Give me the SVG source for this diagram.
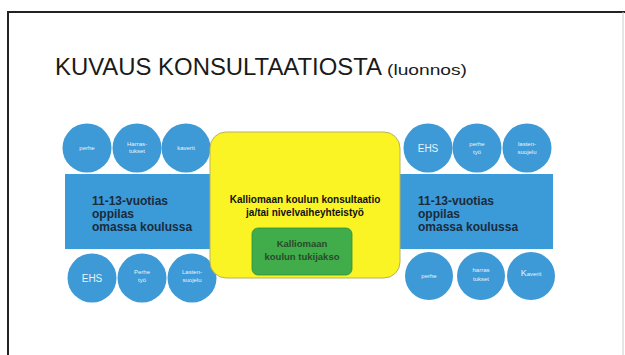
<svg xmlns="http://www.w3.org/2000/svg" width="625" height="355" viewBox="0 0 625 355">
<style>
.c{fill:#3d9ad6;}
.ct{fill:#e8f3fb;font-family:"Liberation Sans",Arial,sans-serif;font-size:6px;text-anchor:middle;}
.ehs{font-size:10px;}
.bar{fill:#3b9ad8;}
.bt{fill:#1c2b3a;font-family:"Liberation Sans",Arial,sans-serif;font-size:12px;font-weight:bold;}
.yt{fill:#111;font-family:"Liberation Sans",Arial,sans-serif;font-size:10px;font-weight:bold;text-anchor:middle;}
.gt{fill:#2a4a2a;font-family:"Liberation Sans",Arial,sans-serif;font-size:9.5px;font-weight:bold;text-anchor:middle;}
</style>
<rect width="625" height="355" fill="#ffffff"/>
<g id="frame">
<path d="M8 355 V12 H625" fill="none" stroke="#222" stroke-width="2"/>
<line x1="623" y1="12" x2="623" y2="355" stroke="#ccc" stroke-width="1"/>
</g>
<g id="title">
<text x="55" y="75" font-family="Liberation Sans,Arial,sans-serif" font-size="24" fill="#1a1a1a" textLength="327" lengthAdjust="spacingAndGlyphs">KUVAUS KONSULTAATIOSTA</text>
<text x="387" y="75" font-family="Liberation Sans,Arial,sans-serif" font-size="15" fill="#1a1a1a" textLength="80" lengthAdjust="spacingAndGlyphs">(luonnos)</text>
</g>
<g id="connectors"></g>
<g id="bar-left">
<rect class="bar" x="65" y="174" width="150" height="75"/>
<text class="bt" x="92" y="205">11-13-vuotias</text>
<text class="bt" x="92" y="218">oppilas</text>
<text class="bt" x="92" y="231">omassa koulussa</text>
</g>
<g id="bar-right">
<rect class="bar" x="395" y="174" width="158" height="75"/>
<text class="bt" x="418" y="205">11-13-vuotias</text>
<text class="bt" x="418" y="218">oppilas</text>
<text class="bt" x="418" y="231">omassa koulussa</text>
</g>
<g id="tl1"><circle class="c" cx="87" cy="148" r="24.5"/><text class="ct" x="87" y="150">perhe</text></g>
<g id="tl2"><circle class="c" cx="137" cy="148" r="24.5"/><text class="ct" x="137" y="146">Harras-</text><text class="ct" x="137" y="153">tukset</text></g>
<g id="tl3"><circle class="c" cx="186" cy="148" r="24.5"/><text class="ct" x="186" y="150">kaverit</text></g>
<g id="tr1"><circle class="c" cx="428" cy="148" r="24.5"/><text class="ct ehs" x="428" y="152">EHS</text></g>
<g id="tr2"><circle class="c" cx="477" cy="148" r="24.5"/><text class="ct" x="477" y="146">perhe</text><text class="ct" x="477" y="154">työ</text></g>
<g id="tr3"><circle class="c" cx="527" cy="148" r="24.5"/><text class="ct" x="527" y="146">lasten-</text><text class="ct" x="527" y="154">suojelu</text></g>
<g id="bl1"><circle class="c" cx="92" cy="278" r="24.5"/><text class="ct ehs" x="92" y="282">EHS</text></g>
<g id="bl2"><circle class="c" cx="142" cy="278" r="24.5"/><text class="ct" x="142" y="274">Perhe</text><text class="ct" x="142" y="282">työ</text></g>
<g id="bl3"><circle class="c" cx="192" cy="278" r="24.5"/><text class="ct" x="192" y="274">Lasten-</text><text class="ct" x="192" y="282">suojelu</text></g>
<g id="br1"><circle class="c" cx="429" cy="276" r="24"/><text class="ct" x="429" y="278">perhe</text></g>
<g id="br2"><circle class="c" cx="481" cy="276" r="24"/><text class="ct" x="481" y="272" font-size="8">harras</text><text class="ct" x="481" y="281" font-size="8">tukset</text></g>
<g id="br3"><circle class="c" cx="531" cy="276" r="24"/><text class="ct" x="531" y="276"><tspan font-size="9">K</tspan>averit</text></g>
<g id="center">
<rect x="210" y="132" width="190" height="146" rx="16" fill="#fbf425" stroke="#b8b060" stroke-width="1"/>
<text class="yt" x="305" y="203">Kalliomaan koulun konsultaatio</text>
<text class="yt" x="305" y="216">ja/tai nivelvaiheyhteistyö</text>
<g id="tukijakso">
<rect x="252" y="228" width="100" height="47" rx="6" fill="#40ad4a" stroke="#2f8f38" stroke-width="0.8"/>
<text class="gt" x="302" y="247">Kalliomaan</text>
<text class="gt" x="302" y="260">koulun tukijakso</text>
</g>
</g>
</svg>
